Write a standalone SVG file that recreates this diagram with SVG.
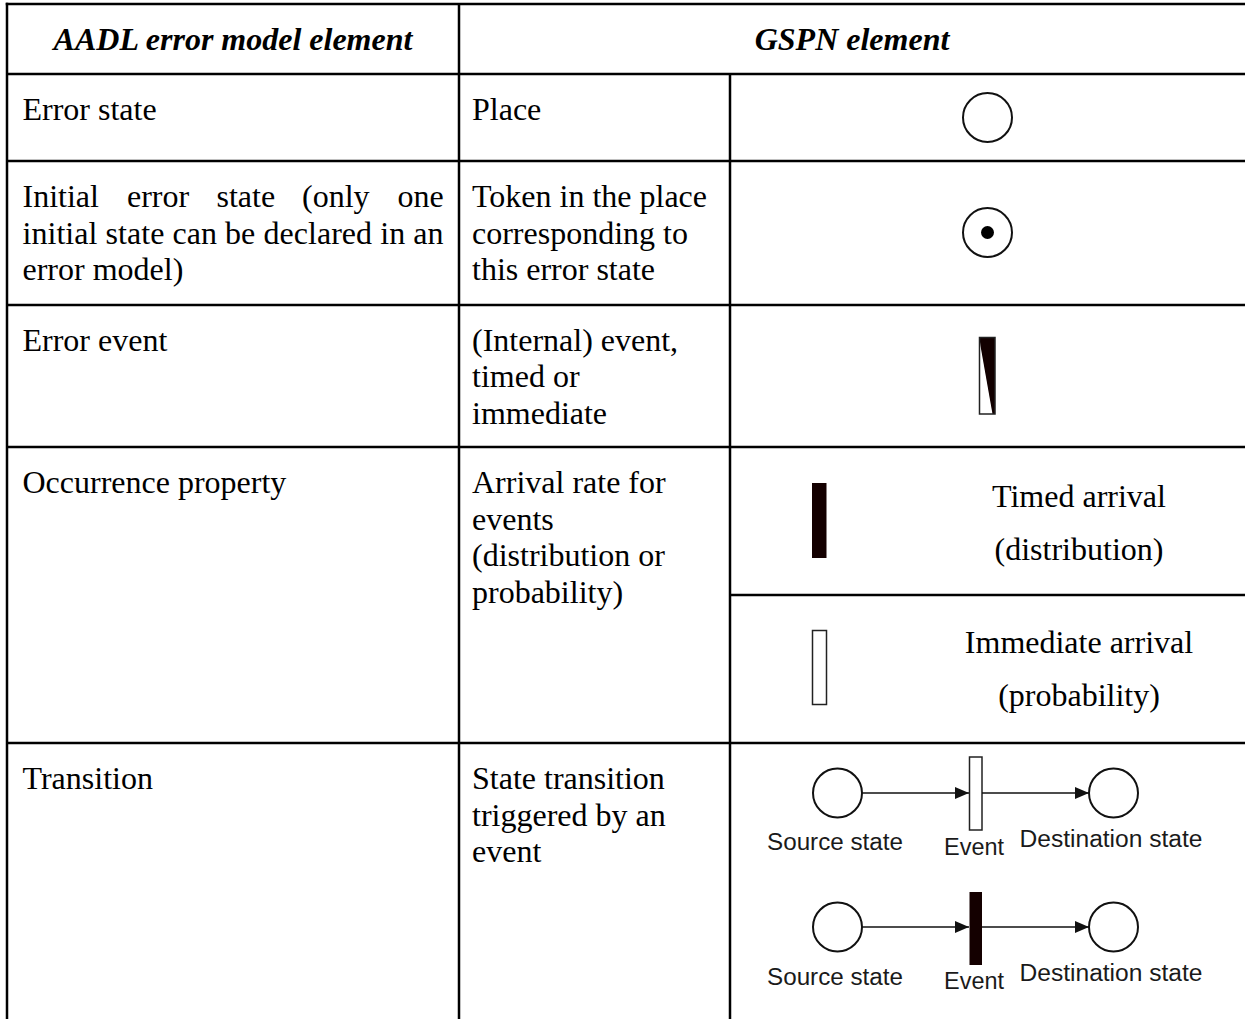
<svg xmlns="http://www.w3.org/2000/svg" width="1245" height="1019" viewBox="0 0 1245 1019">
<style>
  .grid { stroke: #000; stroke-width: 2.5; fill: none; }
  .t { font-family: "Liberation Serif", "Times New Roman", serif; font-size: 32px; fill: #000; }
  .h { font-family: "Liberation Serif", "Times New Roman", serif; font-size: 32px; font-weight: bold; font-style: italic; fill: #000; }
  .s { font-family: "Liberation Sans", Arial, sans-serif; font-size: 23px; fill: #1a1a1a; }
  .place { fill: #fff; stroke: #111; stroke-width: 2; }
  .arc { stroke: #111; stroke-width: 1.5; fill: none; }
</style>
<defs>
  <marker id="arrow" markerUnits="userSpaceOnUse" markerWidth="15" markerHeight="13" refX="14" refY="6" orient="auto">
    <path d="M0,0 L14,6 L0,12 z" fill="#111"/>
  </marker>
</defs>
<rect width="1245" height="1019" fill="#fff"/>

<g id="table-grid" class="grid">
  <line x1="5.75" y1="4" x2="1245" y2="4"/>
  <line x1="7" y1="2.75" x2="7" y2="1019"/>
  <line x1="7" y1="74" x2="1245" y2="74"/>
  <line x1="459" y1="4" x2="459" y2="1019"/>
  <line x1="730" y1="74" x2="730" y2="1019"/>
  <line x1="7" y1="161" x2="1245" y2="161"/>
  <line x1="7" y1="305" x2="1245" y2="305"/>
  <line x1="7" y1="447" x2="1245" y2="447"/>
  <line x1="730" y1="595" x2="1245" y2="595"/>
  <line x1="7" y1="743" x2="1245" y2="743"/>
</g>

<g id="header">
  <text class="h" x="233" y="50" text-anchor="middle">AADL error model element</text>
  <text class="h" x="852" y="50" text-anchor="middle">GSPN element</text>
</g>

<g id="row-error-state">
  <text class="t" x="22.5" y="120">Error state</text>
  <text class="t" x="472" y="120">Place</text>
  <circle class="place" cx="987.5" cy="117.5" r="24.5"/>
</g>

<g id="row-initial-state">
  <text class="t" y="207"><tspan x="22.5">Initial</tspan> <tspan x="127">error</tspan> <tspan x="216.5">state</tspan> <tspan x="302">(only</tspan> <tspan x="397.5">one</tspan></text>
  <text class="t" x="22.5" y="243.5" textLength="421" lengthAdjust="spacing">initial state can be declared in an</text>
  <text class="t" x="22.5" y="280">error model)</text>
  <text class="t" x="472" y="207">Token in the place</text>
  <text class="t" x="472" y="243.5">corresponding to</text>
  <text class="t" x="472" y="280">this error state</text>
  <circle class="place" cx="987.5" cy="232.5" r="24.5"/>
  <circle cx="987.5" cy="232.5" r="6.5" fill="#000"/>
</g>

<g id="row-error-event">
  <text class="t" x="22.5" y="350.5">Error event</text>
  <text class="t" x="472" y="350.5">(Internal) event,</text>
  <text class="t" x="472" y="387">timed or</text>
  <text class="t" x="472" y="423.5">immediate</text>
  <rect x="979.5" y="337.5" width="15.5" height="76.5" fill="#fff"/>
  <polygon points="979.5,337.5 995,337.5 995,414 992.5,414 980.5,346" fill="#120000"/>
  <rect x="979.5" y="337.5" width="15.5" height="76.5" fill="none" stroke="#222" stroke-width="1.5"/>
</g>

<g id="row-occurrence">
  <text class="t" x="22.5" y="493">Occurrence property</text>
  <text class="t" x="472" y="493">Arrival rate for</text>
  <text class="t" x="472" y="529.5">events</text>
  <text class="t" x="472" y="566">(distribution or</text>
  <text class="t" x="472" y="602.5">probability)</text>
  <rect x="812" y="483" width="14.5" height="75" fill="#140000"/>
  <text class="t" x="1079" y="506.5" text-anchor="middle">Timed arrival</text>
  <text class="t" x="1079" y="560" text-anchor="middle">(distribution)</text>
  <rect x="812.5" y="630.5" width="14" height="74" fill="#fff" stroke="#222" stroke-width="1.5"/>
  <text class="t" x="1079" y="653" text-anchor="middle">Immediate arrival</text>
  <text class="t" x="1079" y="706" text-anchor="middle">(probability)</text>
</g>

<g id="row-transition">
  <text class="t" x="22.5" y="789">Transition</text>
  <text class="t" x="472" y="789">State transition</text>
  <text class="t" x="472" y="825.5">triggered by an</text>
  <text class="t" x="472" y="862">event</text>
</g>

<g id="gspn-immediate-transition">
  <circle id="src1" class="place" cx="837.5" cy="793" r="24.5"/>
  <rect id="ev1" x="969.5" y="757" width="12.5" height="73" fill="#fff" stroke="#222" stroke-width="1.5"/>
  <circle id="dst1" class="place" cx="1113.5" cy="793" r="24.5"/>
  <text class="s" x="767" y="850" textLength="136" lengthAdjust="spacingAndGlyphs">Source state</text>
  <text class="s" x="944" y="855" textLength="60" lengthAdjust="spacingAndGlyphs">Event</text>
  <text class="s" x="1019.5" y="847" textLength="183" lengthAdjust="spacingAndGlyphs">Destination state</text>
</g>

<g id="gspn-timed-transition">
  <circle id="src2" class="place" cx="837.5" cy="927" r="24.5"/>
  <rect id="ev2" x="969.5" y="892" width="12.5" height="73" fill="#140000"/>
  <circle id="dst2" class="place" cx="1113.5" cy="927" r="24.5"/>
  <text class="s" x="767" y="985" textLength="136" lengthAdjust="spacingAndGlyphs">Source state</text>
  <text class="s" x="944" y="989" textLength="60" lengthAdjust="spacingAndGlyphs">Event</text>
  <text class="s" x="1019.5" y="981" textLength="183" lengthAdjust="spacingAndGlyphs">Destination state</text>
</g>

<g id="connectors">
  <line class="arc" x1="862" y1="793" x2="969" y2="793" marker-end="url(#arrow)"/>
  <line class="arc" x1="982" y1="793" x2="1089" y2="793" marker-end="url(#arrow)"/>
  <line class="arc" x1="862" y1="927" x2="969" y2="927" marker-end="url(#arrow)"/>
  <line class="arc" x1="982" y1="927" x2="1089" y2="927" marker-end="url(#arrow)"/>
</g>
</svg>
